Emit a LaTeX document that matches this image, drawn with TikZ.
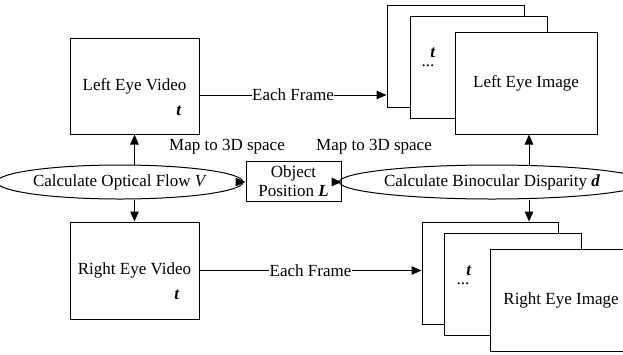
\documentclass[tikz,border=0pt]{standalone}
\usepackage{fontspec}
\setmainfont{Liberation Serif}
\usetikzlibrary{arrows.meta,shapes.geometric}
\begin{document}
\begin{tikzpicture}[x=1pt,y=-1pt,
  font=\fontsize{17}{20}\selectfont,
  line width=1pt,
  arr/.style={-{Triangle[length=10pt,width=8.5pt]}},
  box/.style={draw,rectangle,inner sep=0pt,minimum width=#1},
  frame/.style={draw,fill=white,rectangle,inner sep=0pt,minimum height=102pt},
  oval/.style={draw,ellipse,inner sep=0pt,minimum height=34pt},
  lbl/.style={inner sep=0pt},
  onln/.style={fill=white,inner sep=0.5pt}]
\useasboundingbox (0,0) rectangle (623,354);

% video boxes
\node[box=129pt,minimum height=96pt] (lv) at (134.5,86) {Left Eye Video};
\node[lbl] (lvt) at (179,111) {\textbf{\textit{t}}};
\node[box=129pt,minimum height=97pt] (rv) at (134.5,270.5) {Right Eye Video};
\node[lbl] (rvt) at (177,295) {\textbf{\textit{t}}};

% processing steps
\node[oval,minimum width=221pt] (flow) at (120,182) {Calculate Optical Flow \textit{V}};
\node[box=95pt,minimum height=40pt,align=center] (obj) at (293.5,181)
  {Object\\[-1pt]Position \textbf{\textit{L}}};
\node[oval,minimum width=260pt] (disp) at (492,182) {Calculate Binocular Disparity \textbf{\textit{d}}};
\coordinate (dax) at (529,182);

% left eye image stack
\node[frame,minimum width=137pt] (lb) at (455.5,56) {};
\node[frame,minimum width=137pt] (lm) at (478.5,67) {};
\node[frame,minimum width=142pt] (lf) at (526,83) {Left Eye Image};
\node[lbl] (lmt) at (433,53) {\textbf{\textit{t}}};
\node[lbl] (lmd) at (428,66) {...};

% right eye image stack
\node[frame,minimum width=136pt] (rb) at (490,273) {};
\node[frame,minimum width=137pt] (rm) at (512.5,284.5) {};
\node[frame,minimum width=142pt] (rf) at (561,300) {Right Eye Image};
\node[lbl] (rmt) at (469,271) {\textbf{\textit{t}}};
\node[lbl] (rmd) at (463,284) {...};

% captions
\node[lbl] (m1) at (227,147) {Map to 3D space};
\node[lbl] (m2) at (374,147) {Map to 3D space};

% connectors
\draw[arr] (lv.south |- flow.north) -- (lv.south);
\draw[arr] (rv.north |- flow.south) -- (rv.north);
\draw[arr] (flow.east) -- (obj.west |- flow.east);
\draw[arr] (disp.west) -- (obj.east |- disp.west);
\draw[arr] (dax |- disp.north) -- (dax |- lf.south);
\draw[arr] (dax |- disp.south) -- (dax |- rb.north);
\draw[arr] ([yshift=-9pt]lv.east) -- node[onln] {Each Frame} ([yshift=-9pt]lv.east -| lb.west);
\draw[arr] (rv.east) -- node[onln] {Each Frame} (rv.east -| rb.west);
\end{tikzpicture}
\end{document}
